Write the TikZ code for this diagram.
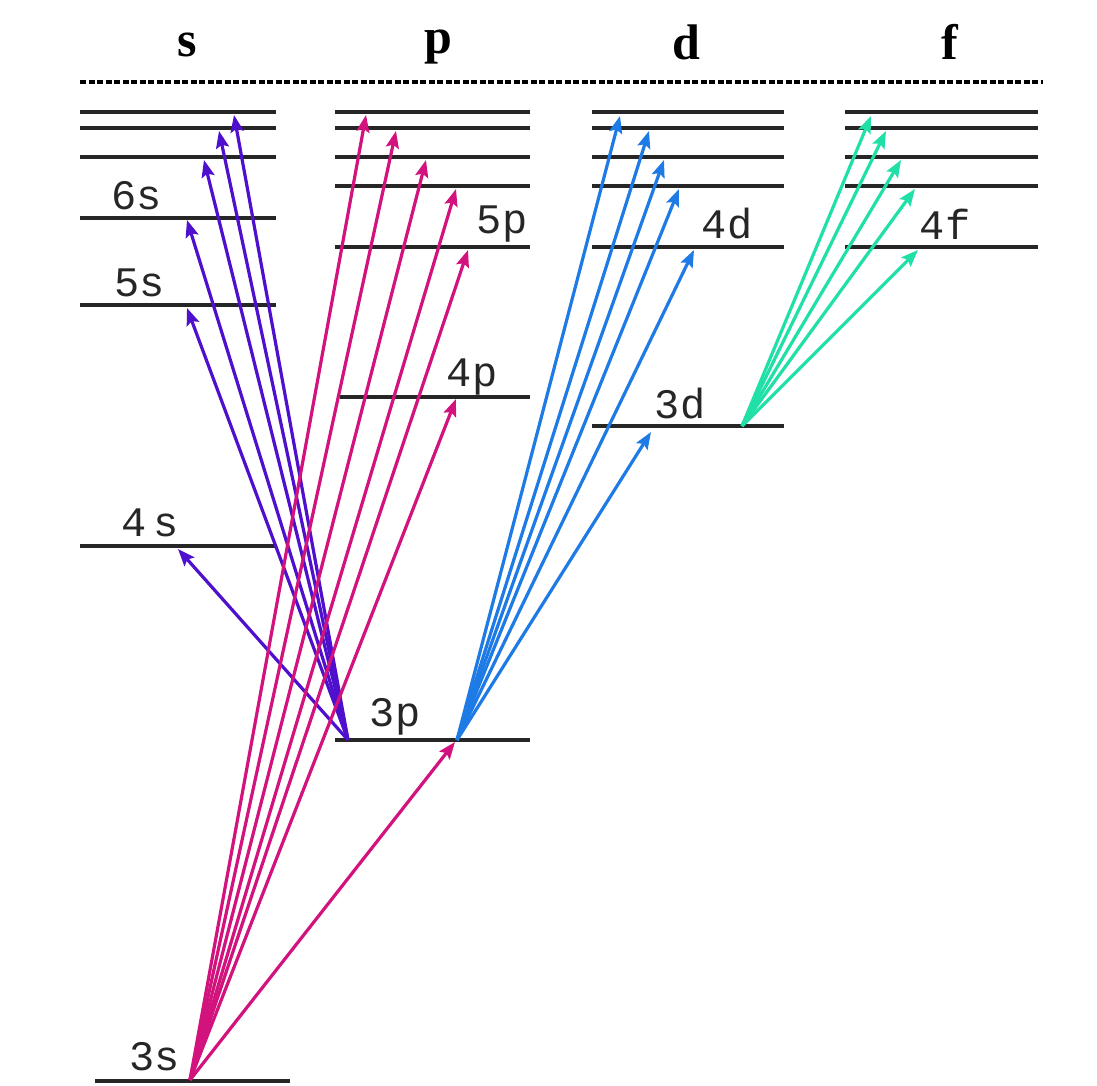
\documentclass[tikz,border=0pt]{standalone}
\usepackage{fontspec}
\setmainfont{Liberation Serif}
\newfontfamily\lblfont{Liberation Mono}
\usetikzlibrary{arrows.meta}
\definecolor{scol}{RGB}{78,16,205}
\definecolor{pcol}{RGB}{210,18,125}
\definecolor{dcol}{RGB}{30,123,230}
\definecolor{fcol}{RGB}{32,224,168}
\tikzset{
  level/.style={line width=3.6pt, black!85},
  lbl/.style={font=\lblfont\fontsize{42}{42}\selectfont, inner sep=0pt, black!85},
  head/.style={font=\bfseries\fontsize{50}{50}\selectfont, inner sep=0pt},
  trans/.style={line width=3.2pt, -{Stealth[length=17pt,width=13pt,inset=3pt]}},
}
\begin{document}
\begin{tikzpicture}[x=1pt,y=-1pt]
\useasboundingbox (0,0) rectangle (1097,1086);
\fill[white] (0,0) rectangle (1097,1086);
% headings
\node[head] (hs) at (187,45) {s};
\node[head] (hp) at (438,47) {p};
\node[head] (hd) at (686,42) {d};
\node[head] (hf) at (950,42) {f};
\draw[line width=4.5pt, dash pattern=on 6pt off 2.5pt] (80,82) -- (1043,82);
% s levels
\foreach \y in {112,128,157,218,305,546} \draw[level] (80,\y) -- (276,\y);
% p levels
\foreach \y in {112,128,157,186,247} \draw[level] (335,\y) -- (530,\y);
\draw[level] (340,397) -- (530,397);
\draw[level] (335,740) -- (530,740);
% d levels
\foreach \y in {112,128,157,186,247} \draw[level] (592,\y) -- (784,\y);
\draw[level] (592,426) -- (784,426);
% f levels
\foreach \y in {112,128,157,186,247} \draw[level] (845,\y) -- (1038,\y);
% 3s
\draw[level] (95,1081) -- (290,1081);
% labels
\node[lbl] (l6s) at (137,196) {6s};
\node[lbl] (l5s) at (140,283) {5s};
\node[lbl] (l4s) at (150,523) {4\,s};
\node[lbl] (l5p) at (502,224) {5p};
\node[lbl] (l4p) at (472,377) {4p};
\node[lbl] (l3p) at (395,717) {3p};
\node[lbl] (l4d) at (727,224) {4d};
\node[lbl] (l3d) at (680,404) {3d};
\node[lbl] (l4f) at (945,224) {4f};
\node[lbl] (l3s) at (155,1057) {3s};
% origins
\coordinate (o3s) at (190,1080);
\coordinate (o3pL) at (348,740);
\coordinate (o3pR) at (457,740);
\coordinate (o3d) at (742,426);
% s tips
\coordinate (s4) at (178,549);
\coordinate (s5) at (187,308);
\coordinate (s6) at (187,220);
\coordinate (s7) at (204,160);
\coordinate (s8) at (219,131);
\coordinate (s9) at (234,115);
% p tips
\coordinate (p3) at (455,742);
\coordinate (p4) at (456,399);
\coordinate (p5) at (468,250);
\coordinate (p6) at (456,189);
\coordinate (p7) at (426,160);
\coordinate (p8) at (396,131);
\coordinate (p9) at (366,115);
% d tips
\coordinate (d3) at (651,432);
\coordinate (d4) at (694,250);
\coordinate (d5) at (679,189);
\coordinate (d6) at (664,160);
\coordinate (d7) at (649,131);
\coordinate (d8) at (620,116);
% f tips
\coordinate (f4) at (918,250);
\coordinate (f5) at (915,189);
\coordinate (f6) at (901,160);
\coordinate (f7) at (886,131);
\coordinate (f8) at (871,116);
% transitions
\foreach \t in {s4,s5,s6,s7,s8,s9} \draw[trans, scol] (o3pL) -- (\t);
\foreach \t in {p3,p4,p5,p6,p7,p8,p9} \draw[trans, pcol] (o3s) -- (\t);
\foreach \t in {d3,d4,d5,d6,d7,d8} \draw[trans, dcol] (o3pR) -- (\t);
\foreach \t in {f4,f5,f6,f7,f8} \draw[trans, fcol] (o3d) -- (\t);
\end{tikzpicture}
\end{document}
